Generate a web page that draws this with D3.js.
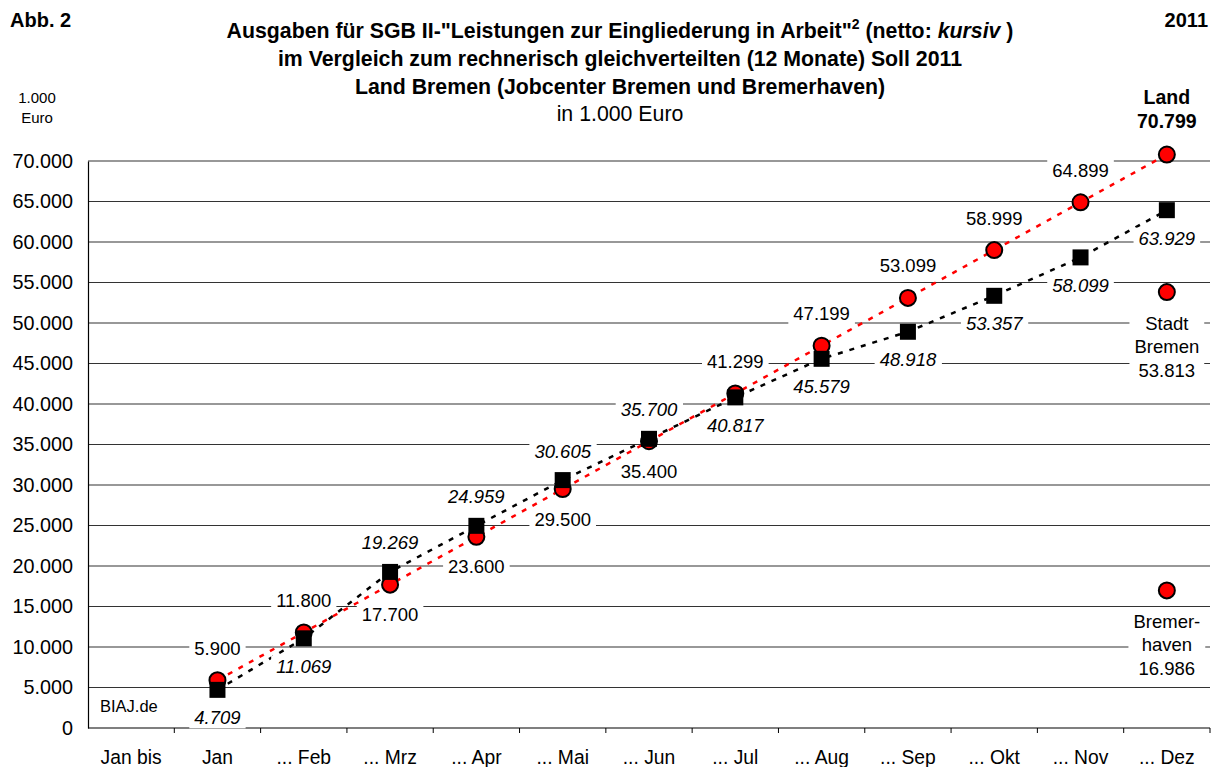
<!DOCTYPE html>
<html>
<head>
<meta charset="utf-8">
<script src="https://cdn.jsdelivr.net/npm/d3@7"></script>
<style>
  body { margin: 0; background: #fff; }
  svg { font-family: "Liberation Sans", Arial, sans-serif; }
</style>
</head>
<body>
<svg id="chart" width="1216" height="767"></svg>
<script>
// months shown on the x axis
const categories = ['Jan bis', 'Jan', '... Feb', '... Mrz', '... Apr', '... Mai', '... Jun',
  '... Jul', '... Aug', '... Sep', '... Okt', '... Nov', '... Dez'];
const months = categories.slice(1);

// Soll (equal distribution, 12 months), 1.000 Euro
const sollValues = [5900, 11800, 17700, 23600, 29500, 35400, 41299, 47199, 53099, 58999, 64899, 70799];
// netto expenditure, cumulative, 1.000 Euro
const nettoValues = [4709, 11069, 19269, 24959, 30605, 35700, 40817, 45579, 48918, 53357, 58099, 63929];
// where the value labels sit relative to the mark
const sollLabelSide = ['above', 'above', 'below', 'below', 'below', 'below', 'above', 'above', 'above', 'above', 'above', 'none'];
const nettoLabelSide = ['below', 'below', 'above', 'above', 'above', 'above', 'below', 'below', 'below', 'below', 'below', 'below'];

// Dez split by Jobcenter
const cityNames = [['Stadt', 'Bremen'], ['Bremer-', 'haven']];
const cityValues = [53813, 16986];

const yTicks = [0, 5000, 10000, 15000, 20000, 25000, 30000, 35000, 40000, 45000, 50000, 55000, 60000, 65000, 70000];

const de = d3.formatLocale({ decimal: ',', thousands: '.', grouping: [3], currency: ['', ' €'] });
const fmt = de.format(',d');

const svg = d3.select('#chart');
const margin = { top: 161, right: 6, bottom: 39, left: 88 };
const width = +svg.attr('width');
const height = +svg.attr('height');

const x = d3.scaleBand()
    .domain(categories)
    .range([margin.left, width - margin.right])
    .padding(0);
const y = d3.scaleLinear()
    .domain([0, 70000])
    .range([height - margin.bottom, margin.top]);
const cx = d => x(d) + x.bandwidth() / 2;

// gridlines
svg.append('g')
  .selectAll('line')
    .data(yTicks.filter(d => d > 0))
  .enter().append('line')
    .attr('x1', margin.left).attr('x2', width - margin.right)
    .attr('y1', d => y(d)).attr('y2', d => y(d))
    .attr('stroke', '#333').attr('stroke-width', 1.2);

// y axis
const yAxis = svg.append('g')
    .attr('transform', `translate(${margin.left},0)`)
    .call(d3.axisLeft(y).tickValues(yTicks).tickFormat(fmt).tickSize(0).tickPadding(15));
yAxis.select('.domain').attr('stroke', '#000').attr('stroke-width', 1.2);
yAxis.selectAll('text').attr('font-size', 19.8).attr('fill', '#000').attr('font-family', 'Liberation Sans, Arial');

// x axis with ticks at category boundaries
const xg = svg.append('g')
    .attr('transform', `translate(0,${y(0)})`);
xg.append('line')
    .attr('x1', margin.left).attr('x2', width - margin.right)
    .attr('stroke', '#000').attr('stroke-width', 1.2);
xg.selectAll('.tk')
    .data(categories.slice(1).concat(['__end']))
  .enter().append('line')
    .attr('x1', d => d === '__end' ? width - margin.right : x(d))
    .attr('x2', d => d === '__end' ? width - margin.right : x(d))
    .attr('y1', 0).attr('y2', 5)
    .attr('stroke', '#000');
xg.selectAll('text')
    .data(categories)
  .enter().append('text')
    .attr('x', d => cx(d))
    .attr('y', 36)
    .attr('text-anchor', 'middle')
    .attr('font-size', 19.3)
    .text(d => d);

// dashed connecting lines
const line = d3.line().x((d, i) => cx(months[i])).y(d => y(d));
svg.append('path').datum(sollValues)
    .attr('d', line).attr('fill', 'none')
    .attr('stroke', '#f00').attr('stroke-width', 2.5).attr('stroke-dasharray', '5,7');
svg.append('path').datum(nettoValues)
    .attr('d', line).attr('fill', 'none')
    .attr('stroke', '#000').attr('stroke-width', 2.5).attr('stroke-dasharray', '5,7');

// circles (Soll + cities)
svg.append('g')
  .selectAll('circle')
    .data(sollValues.map((v, i) => ({ m: months[i], v })).concat(cityValues.map(v => ({ m: '... Dez', v }))))
  .enter().append('circle')
    .attr('cx', d => cx(d.m)).attr('cy', d => y(d.v)).attr('r', 8)
    .attr('fill', '#f00').attr('stroke', '#000').attr('stroke-width', 2);

// squares (netto)
const sq = 16;
svg.append('g')
  .selectAll('rect')
    .data(nettoValues)
  .enter().append('rect')
    .attr('x', (d, i) => cx(months[i]) - sq / 2)
    .attr('y', d => y(d) - sq / 2)
    .attr('width', sq).attr('height', sq)
    .attr('fill', '#000');

// label with white background
function label(g, px, lines, opts) {
  const grp = g.append('g');
  const bg = grp.append('rect').attr('fill', '#fff');
  const t = grp.append('text')
      .attr('text-anchor', 'middle')
      .attr('font-size', opts.size || 18.5)
      .attr('font-style', opts.italic ? 'italic' : 'normal')
      .attr('font-weight', opts.bold ? 'bold' : 'normal');
  lines.forEach((s, k) => {
    t.append('tspan').attr('x', px).attr('y', opts.y + k * (opts.lh || 23.5)).attr('dy', '0.35em').text(s);
  });
  if (opts.bg !== false) {
    const b = t.node().getBBox();
    bg.attr('x', b.x - 5).attr('y', b.y).attr('width', b.width + 10).attr('height', b.height);
  }
}

const labels = svg.append('g');
sollValues.forEach((v, i) => {
  const side = sollLabelSide[i];
  if (side === 'none') return;
  label(labels, cx(months[i]), [fmt(v)], { y: y(v) + (side === 'above' ? -32 : 30) });
});
nettoValues.forEach((v, i) => {
  const side = nettoLabelSide[i];
  label(labels, cx(months[i]), [fmt(v)], { y: y(v) + (side === 'above' ? -29 : 28), italic: true });
});
label(labels, cx('... Dez'), ['Land', fmt(sollValues[11])], { y: y(sollValues[11]) - 57, bold: true, lh: 24, bg: false, size: 19.5 });
cityValues.forEach((v, i) => {
  label(labels, cx('... Dez'), cityNames[i].concat([fmt(v)]), { y: y(v) + 31 });
});

// BIAJ
svg.append('text').attr('x', 100).attr('y', 712).attr('font-size', 16.5).text('BIAJ.de');

// unit label
svg.append('text').attr('x', 37).attr('y', 103).attr('text-anchor', 'middle').attr('font-size', 15).text('1.000');
svg.append('text').attr('x', 37).attr('y', 123).attr('text-anchor', 'middle').attr('font-size', 15).text('Euro');

// corner labels
svg.append('text').attr('x', 10).attr('y', 27).attr('font-size', 20).attr('font-weight', 'bold').text('Abb. 2');
svg.append('text').attr('x', 1208).attr('y', 27).attr('text-anchor', 'end').attr('font-size', 20).attr('font-weight', 'bold').text('2011');

// title
const title = svg.append('g').attr('font-size', 21.3).attr('font-weight', 'bold').attr('text-anchor', 'middle');
const t1 = title.append('text').attr('x', 620).attr('y', 38);
t1.append('tspan').text('Ausgaben für SGB II-"Leistungen zur Eingliederung in Arbeit"');
t1.append('tspan').attr('font-size', 14).attr('dy', -9).text('2');
t1.append('tspan').attr('dy', 9).text(' (netto: ');
t1.append('tspan').attr('font-style', 'italic').text('kursiv');
t1.append('tspan').text(' )');
title.append('text').attr('x', 620).attr('y', 66).text('im Vergleich zum rechnerisch gleichverteilten (12 Monate) Soll 2011');
title.append('text').attr('x', 620).attr('y', 94).text('Land Bremen (Jobcenter Bremen und Bremerhaven)');
svg.append('text').attr('x', 620).attr('y', 121).attr('text-anchor', 'middle').attr('font-size', 21.3).text('in 1.000 Euro');
</script>
</body>
</html>
